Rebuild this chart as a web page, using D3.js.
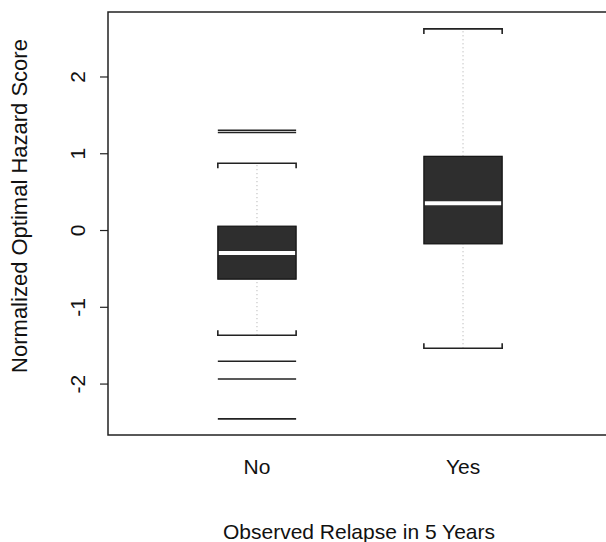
<!DOCTYPE html>
<html>
<head>
<meta charset="utf-8">
<script src="https://cdn.jsdelivr.net/npm/d3@7"></script>
<style>
  body { margin: 0; background: #fff; }
  text { font-family: "Liberation Sans", Arial, sans-serif; fill: #111; }
</style>
</head>
<body>
<svg id="chart" width="606" height="542"></svg>
<script>
// values
const groups = ['No', 'Yes'];
const whiskerLow = [-1.37, -1.54];
const q1 = [-0.64, -0.18];
const medians = [-0.30, 0.35];
const q3 = [0.05, 0.96];
const whiskerHigh = [0.87, 2.62];
const outliers = [[1.30, 1.27, -1.71, -1.94, -2.46], []];
const yTicks = [-2, -1, 0, 1, 2];

const svg = d3.select('#chart');

// plot region (right edge runs just off the page, as in the original)
const plotL = 108, plotR = 612, plotT = 12, plotB = 435;

const x = d3.scaleLinear().domain([0.277, 2.723]).range([plotL, plotR]);
const y = d3.scaleLinear().domain([-2.67, 2.84]).range([plotB, plotT]);
const halfW = 0.19; // half box width in x units

const data = groups.map((g, i) => ({
  name: g, pos: i + 1,
  lo: whiskerLow[i], q1: q1[i], med: medians[i], q3: q3[i], hi: whiskerHigh[i],
  out: outliers[i]
}));

const g = svg.append('g');

// whiskers - faint dotted lines
g.selectAll('.whisk')
  .data(data.flatMap(d => [[d, d.lo, d.q1], [d, d.q3, d.hi]]))
  .enter().append('line')
  .attr('x1', d => x(d[0].pos)).attr('x2', d => x(d[0].pos))
  .attr('y1', d => y(d[1])).attr('y2', d => y(d[2]))
  .attr('stroke', '#aaa')
  .attr('stroke-width', 1)
  .attr('stroke-dasharray', '1,3');

// caps, with little end ticks pointing toward the box
data.forEach(d => {
  [[d.hi, 1], [d.lo, -1]].forEach(([v, dir]) => {
    const x0 = x(d.pos - halfW), x1 = x(d.pos + halfW), yy = y(v);
    g.append('path')
      .attr('d', `M${x0},${yy + dir * 5}V${yy}H${x1}V${yy + dir * 5}`)
      .attr('fill', 'none')
      .attr('stroke', '#222')
      .attr('stroke-width', 1.6);
  });
});

// boxes
g.selectAll('.box')
  .data(data)
  .enter().append('rect')
  .attr('x', d => x(d.pos - halfW))
  .attr('width', d => x(d.pos + halfW) - x(d.pos - halfW))
  .attr('y', d => y(d.q3))
  .attr('height', d => y(d.q1) - y(d.q3))
  .attr('fill', '#2e2e2e')
  .attr('stroke', '#111')
  .attr('stroke-width', 1.2);

// medians
g.selectAll('.med')
  .data(data)
  .enter().append('line')
  .attr('x1', d => x(d.pos - halfW) + 1)
  .attr('x2', d => x(d.pos + halfW) - 1)
  .attr('y1', d => y(d.med)).attr('y2', d => y(d.med))
  .attr('stroke', '#fff')
  .attr('stroke-width', 4);

// outliers drawn as full-width lines
g.selectAll('.out')
  .data(data.flatMap(d => d.out.map(v => [d, v])))
  .enter().append('line')
  .attr('x1', d => x(d[0].pos - halfW))
  .attr('x2', d => x(d[0].pos + halfW))
  .attr('y1', d => y(d[1])).attr('y2', d => y(d[1]))
  .attr('stroke', '#222')
  .attr('stroke-width', 1.6);

// frame
svg.append('rect')
  .attr('x', plotL).attr('y', plotT)
  .attr('width', plotR - plotL).attr('height', plotB - plotT)
  .attr('fill', 'none')
  .attr('stroke', '#222')
  .attr('stroke-width', 1.5);

// y axis
const yAxis = svg.append('g')
  .attr('transform', `translate(${plotL},0)`)
  .call(d3.axisLeft(y).tickValues(yTicks).tickSize(8).tickSizeOuter(0)
    .tickFormat(d => String(d)));
yAxis.select('.domain').remove();
yAxis.selectAll('line').attr('stroke', '#222').attr('stroke-width', 1.2);
yAxis.selectAll('text')
  .attr('transform', 'rotate(-90)')
  .attr('x', 0).attr('y', -23).attr('dy', 0)
  .attr('text-anchor', 'middle')
  .style('font-size', '21px')
  .style('font-family', '"Liberation Sans", Arial, sans-serif')
  .attr('fill', '#111');

// x labels
svg.selectAll('.xlab')
  .data(data)
  .enter().append('text')
  .attr('x', d => x(d.pos))
  .attr('y', 474)
  .attr('text-anchor', 'middle')
  .style('font-size', '21px')
  .text(d => d.name);

// axis titles
svg.append('text')
  .attr('x', 359).attr('y', 539)
  .attr('text-anchor', 'middle')
  .style('font-size', '21px')
  .text('Observed Relapse in 5 Years');

svg.append('text')
  .attr('transform', 'translate(27,206) rotate(-90)')
  .attr('text-anchor', 'middle')
  .style('font-size', '22px')
  .text('Normalized Optimal Hazard Score');
</script>
</body>
</html>
